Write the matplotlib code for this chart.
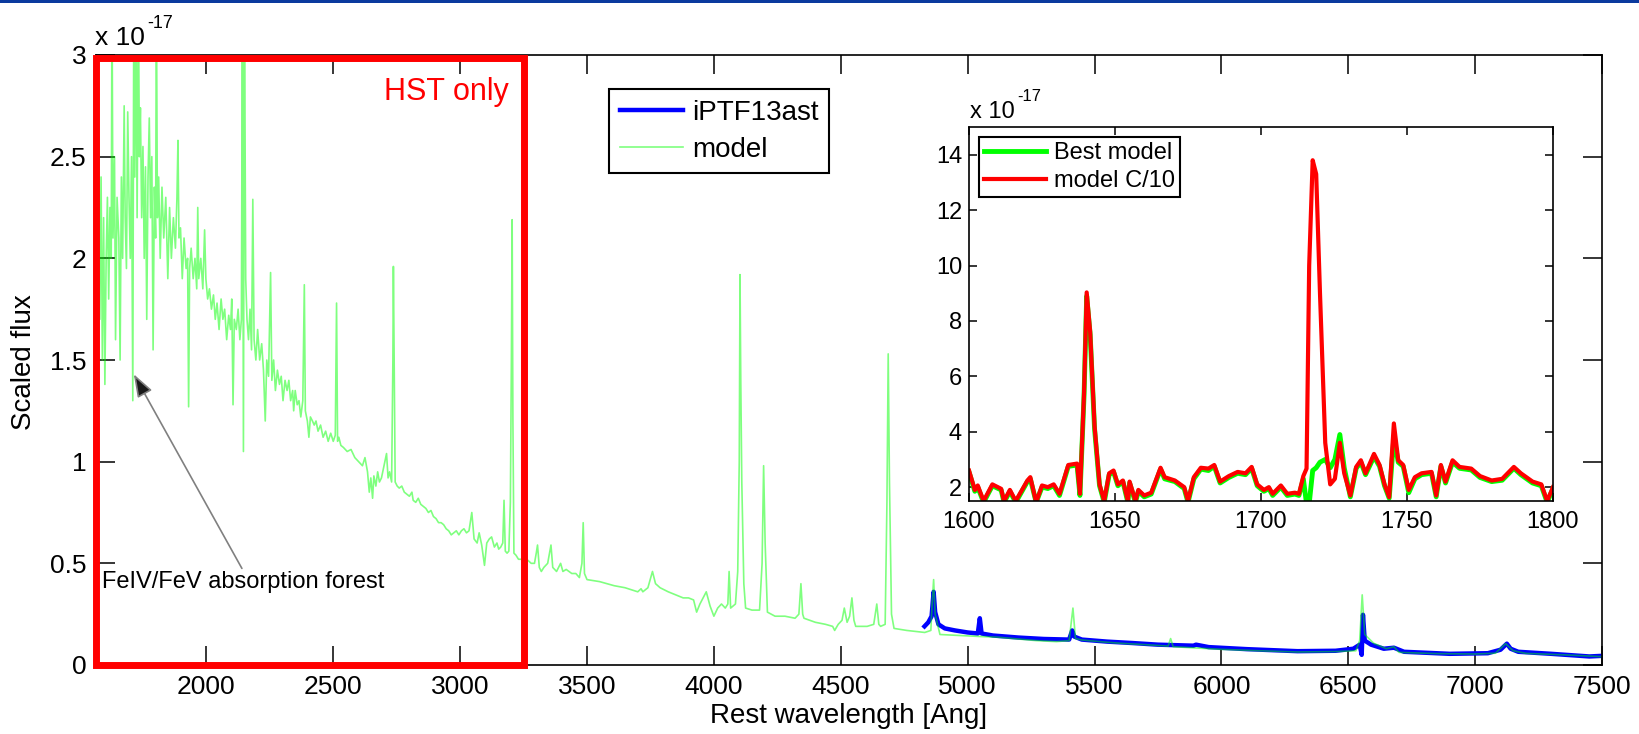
import matplotlib

matplotlib.use("Agg")
import matplotlib.pyplot as plt
import numpy as np
from matplotlib.patches import Rectangle

plt.rcParams["font.family"] = ["Liberation Sans", "DejaVu Sans"]

# model spectrum, flux in units of 1e-17, (wavelength [Ang], flux)
model_uv = [
    (1565, 2.9), (1568, 3.2), (1572, 2.0), (1576, 2.6), (1580, 1.7), (1585, 2.4), (1590, 1.5),
    (1595, 2.2), (1600, 1.38), (1605, 2.0), (1610, 2.3), (1615, 1.8), (1620, 2.25), (1625, 2.0),
    (1628, 3.3), (1632, 2.1), (1638, 2.5), (1642, 1.6), (1648, 2.3), (1655, 2.1), (1660, 1.5),
    (1665, 2.4), (1670, 2.0), (1676, 2.75), (1680, 2.2), (1685, 1.95), (1690, 2.72), (1695, 2.3),
    (1700, 2.0), (1705, 2.5), (1710, 1.3), (1714, 3.3), (1718, 2.4), (1722, 3.3), (1727, 2.2),
    (1732, 3.3), (1736, 2.5), (1740, 2.74), (1745, 2.2), (1750, 2.55), (1755, 2.0), (1760, 2.45),
    (1765, 1.7), (1770, 2.4), (1775, 2.69), (1780, 2.2), (1785, 2.5), (1790, 1.55), (1795, 2.35),
    (1800, 2.1), (1803, 3.3), (1807, 2.2), (1812, 2.4), (1818, 2.0), (1825, 2.35), (1832, 2.1),
    (1840, 2.3), (1848, 1.9), (1855, 2.25), (1862, 2.0), (1870, 2.2), (1878, 2.05), (1884, 2.3),
    (1888, 2.58), (1892, 2.1), (1898, 2.15), (1905, 1.9), (1912, 2.1), (1920, 1.95), (1926, 2.0),
    (1930, 1.27), (1934, 1.95), (1940, 2.05), (1948, 1.9), (1955, 2.0), (1962, 1.85), (1966, 2.25),
    (1970, 1.9), (1978, 2.0), (1986, 1.85), (1993, 2.14), (1998, 1.9), (2005, 1.8), (2012, 1.85),
    (2020, 1.75), (2028, 1.82), (2035, 1.7), (2042, 1.78), (2050, 1.65), (2058, 1.8), (2065, 1.7),
    (2072, 1.75), (2080, 1.6), (2088, 1.72), (2095, 1.65), (2100, 1.8), (2105, 1.28), (2110, 1.7),
    (2118, 1.65), (2125, 1.75), (2132, 1.6), (2138, 1.7), (2142, 3.3), (2146, 1.05), (2150, 3.3),
    (2155, 1.9), (2160, 1.7), (2166, 1.6), (2172, 1.75), (2178, 1.55), (2183, 2.29), (2188, 1.6),
    (2195, 1.5), (2202, 1.65), (2210, 1.5), (2218, 1.58), (2225, 1.45), (2232, 1.2), (2238, 1.5),
    (2245, 1.42), (2253, 1.93), (2258, 1.4), (2265, 1.5), (2272, 1.35), (2280, 1.45), (2288, 1.38),
    (2295, 1.42), (2302, 1.3), (2310, 1.4), (2318, 1.35), (2325, 1.4), (2332, 1.3), (2340, 1.35),
    (2344, 1.25), (2350, 1.35), (2358, 1.28), (2365, 1.3), (2372, 1.22), (2380, 1.3), (2386, 1.87),
    (2390, 1.25), (2398, 1.2), (2404, 1.12), (2410, 1.22), (2418, 1.2), (2425, 1.18), (2432, 1.2),
    (2440, 1.15), (2450, 1.18), (2460, 1.12), (2470, 1.15), (2480, 1.1), (2490, 1.14), (2500, 1.1),
    (2508, 1.13), (2513, 1.78), (2517, 1.1), (2522, 1.12), (2530, 1.08), (2540, 1.07),
]
model_near_uv = [
    (2555, 1.05), (2570, 1.06), (2585, 1.02), (2600, 1.0), (2615, 0.98), (2625, 1.02), (2635, 0.95),
    (2642, 0.85), (2648, 0.92), (2655, 0.82), (2660, 0.93), (2668, 0.88), (2675, 0.95), (2682, 0.9),
    (2690, 0.92), (2700, 0.98), (2710, 1.04), (2716, 0.92), (2722, 0.95), (2730, 0.9), (2735, 1.5),
    (2737, 1.96), (2740, 1.5), (2744, 0.9), (2752, 0.88), (2760, 0.87), (2770, 0.88), (2780, 0.85),
    (2790, 0.84), (2800, 0.83), (2810, 0.85), (2815, 0.81), (2825, 0.8), (2835, 0.82), (2845, 0.79),
    (2855, 0.78), (2865, 0.77), (2875, 0.75), (2885, 0.76), (2895, 0.73), (2905, 0.72), (2915, 0.7),
    (2925, 0.7), (2935, 0.69), (2945, 0.67), (2955, 0.66), (2965, 0.64), (2975, 0.65), (2985, 0.66),
    (2995, 0.64), (3005, 0.66), (3015, 0.67), (3025, 0.65), (3035, 0.66), (3046, 0.75), (3055, 0.62),
    (3067, 0.6), (3075, 0.65), (3085, 0.59), (3096, 0.49), (3105, 0.6), (3115, 0.62), (3124, 0.63),
    (3135, 0.58), (3145, 0.6), (3152, 0.57), (3160, 0.58), (3168, 0.6), (3173, 0.81), (3178, 0.56),
    (3185, 0.55), (3192, 0.56), (3198, 0.8), (3202, 1.5), (3205, 2.19), (3208, 1.2), (3212, 0.55),
    (3220, 0.54), (3230, 0.52), (3245, 0.52), (3255, 0.51), (3267, 0.515), (3280, 0.5), (3293, 0.5),
    (3300, 0.55), (3305, 0.59), (3312, 0.48), (3320, 0.46), (3330, 0.48), (3345, 0.5), (3358, 0.59),
    (3365, 0.48), (3380, 0.46), (3396, 0.5), (3405, 0.46), (3418, 0.47), (3440, 0.45), (3456, 0.45),
    (3470, 0.43), (3480, 0.5), (3485, 0.70), (3490, 0.45), (3500, 0.42),
]
model_optical = [
    (3550, 0.41), (3607, 0.39), (3650, 0.38), (3700, 0.36), (3713, 0.375), (3720, 0.36), (3740, 0.38),
    (3758, 0.46), (3770, 0.4), (3788, 0.38), (3820, 0.36), (3850, 0.345), (3879, 0.33), (3900, 0.33),
    (3920, 0.32), (3932, 0.26), (3945, 0.3), (3970, 0.36), (3985, 0.29), (4000, 0.24), (4015, 0.28),
    (4030, 0.3), (4045, 0.28), (4055, 0.3), (4060, 0.46), (4066, 0.28), (4085, 0.3), (4094, 0.46),
    (4100, 1.0), (4103, 1.92), (4106, 1.4), (4110, 0.9), (4118, 0.4), (4125, 0.28), (4150, 0.27),
    (4180, 0.27), (4190, 0.5), (4196, 0.98), (4202, 0.6), (4211, 0.26), (4241, 0.24), (4280, 0.24),
    (4320, 0.23), (4335, 0.25), (4343, 0.40), (4350, 0.25), (4355, 0.23), (4400, 0.21), (4440, 0.2),
    (4468, 0.19), (4476, 0.17), (4490, 0.2), (4505, 0.22), (4514, 0.28), (4525, 0.21), (4535, 0.24),
    (4544, 0.33), (4552, 0.22), (4559, 0.19), (4604, 0.19), (4630, 0.2), (4642, 0.30), (4650, 0.2),
    (4657, 0.19), (4675, 0.2), (4682, 0.8), (4687, 1.53), (4692, 0.9), (4700, 0.25), (4710, 0.18),
    (4760, 0.17), (4831, 0.16), (4855, 0.17), (4860, 0.3), (4866, 0.42), (4872, 0.25), (4891, 0.15),
    (4967, 0.145), (5050, 0.14), (5118, 0.137), (5200, 0.128), (5269, 0.12), (5350, 0.115),
    (5400, 0.12), (5415, 0.28), (5425, 0.13), (5450, 0.123), (5520, 0.115), (5600, 0.107),
    (5700, 0.1), (5790, 0.093), (5800, 0.13), (5810, 0.09), (5880, 0.085), (6000, 0.077),
    (6150, 0.07), (6300, 0.064), (6450, 0.066), (6530, 0.07), (6545, 0.12), (6555, 0.345),
    (6565, 0.15), (6600, 0.107), (6650, 0.08), (6680, 0.09), (6700, 0.062), (6850, 0.056),
    (7000, 0.054), (7080, 0.058), (7120, 0.105), (7150, 0.07), (7200, 0.057), (7350, 0.05),
    (7500, 0.041),
]

# observed iPTF13ast spectrum
observed = [
    (4830, 0.19), (4845, 0.21), (4858, 0.24), (4866, 0.36), (4872, 0.26), (4885, 0.2), (4910, 0.18),
    (4950, 0.17), (5000, 0.16), (5040, 0.155), (5048, 0.23), (5055, 0.155), (5100, 0.145),
    (5200, 0.135), (5300, 0.128), (5400, 0.125), (5412, 0.17), (5420, 0.14), (5450, 0.125),
    (5550, 0.115), (5650, 0.108), (5750, 0.1), (5890, 0.095), (5900, 0.1), (5950, 0.088),
    (6100, 0.078), (6300, 0.068), (6450, 0.07), (6520, 0.08), (6545, 0.1), (6553, 0.05),
    (6558, 0.247), (6565, 0.12), (6590, 0.1), (6640, 0.08), (6680, 0.085), (6720, 0.065),
    (6900, 0.055), (7050, 0.058), (7100, 0.075), (7125, 0.105), (7140, 0.08), (7170, 0.065),
    (7300, 0.055), (7450, 0.042), (7500, 0.045),
]

# inset: (wavelength, best model, model C/10)
inset_rows = [
    (1600, 2.55, 2.6), (1602, 1.85, 1.9), (1603, 2.0, 2.06), (1605, 1.45, 1.5), (1608, 2.05, 2.1),
    (1611, 1.9, 1.94), (1612, 1.45, 1.5), (1614, 1.85, 1.9), (1616, 1.45, 1.5), (1620, 2.2, 2.24),
    (1621, 2.3, 2.36), (1623, 1.45, 1.45), (1625, 2.0, 2.06), (1627, 1.95, 2.0), (1629, 2.05, 2.1),
    (1631, 1.7, 1.76), (1634, 2.75, 2.8), (1637, 2.8, 2.85), (1638, 1.7, 1.76), (1639.4, 5.3, 5.4),
    (1640.3, 8.9, 9.03), (1641.5, 7.5, 7.6), (1643, 4.1, 4.2), (1644.7, 2.05, 2.1), (1646.3, 1.45, 1.5),
    (1648, 2.45, 2.5), (1649.5, 2.55, 2.6), (1651, 2.05, 2.1), (1652.7, 2.2, 2.24), (1654.4, 1.45, 1.5),
    (1655, 2.15, 2.2), (1657, 1.45, 1.5), (1658, 1.85, 1.9), (1660, 1.65, 1.7), (1662.4, 1.75, 1.8),
    (1665.6, 2.65, 2.7), (1667, 2.3, 2.36), (1670.5, 2.2, 2.24), (1673.7, 1.95, 2.0), (1675, 1.45, 1.5),
    (1677, 2.3, 2.36), (1679.4, 2.65, 2.7), (1682, 2.6, 2.67), (1684, 2.75, 2.8), (1686, 2.15, 2.2),
    (1689, 2.35, 2.4), (1692, 2.5, 2.55), (1694.7, 2.45, 2.5), (1696.8, 2.68, 2.73), (1698.7, 2.05, 2.1),
    (1701, 1.85, 1.9), (1702.7, 1.95, 2.0), (1704, 1.7, 1.76), (1706.8, 2.0, 2.06), (1709, 1.7, 1.76),
    (1711.6, 1.75, 1.8), (1713, 1.7, 1.76), (1714.5, 2.3, 2.4), (1715.6, 1.4, 2.67), (1716.5, 1.4, 10.0),
    (1717.7, 2.6, 13.8), (1718.9, 2.7, 13.3), (1720.2, 2.9, 9.0), (1722, 3.0, 3.6), (1723.7, 2.7, 2.1),
    (1725.3, 3.0, 2.3), (1727, 3.9, 3.6), (1728.5, 2.7, 2.5), (1730.6, 1.65, 1.7), (1732.6, 2.68, 2.73),
    (1734.2, 2.9, 2.97), (1735.8, 2.45, 2.5), (1738.7, 3.1, 3.2), (1740.6, 2.75, 2.8), (1742.3, 2.05, 2.1),
    (1743.9, 1.6, 1.64), (1745.5, 3.8, 4.3), (1747, 2.9, 2.97), (1748.7, 2.75, 2.8), (1750.6, 1.8, 1.9),
    (1752.7, 2.3, 2.36), (1755, 2.45, 2.5), (1758.4, 2.5, 2.55), (1760, 1.65, 1.7), (1761.6, 2.75, 2.8),
    (1763.2, 2.15, 2.2), (1765.6, 2.9, 2.97), (1768, 2.68, 2.73), (1772, 2.62, 2.67), (1775, 2.35, 2.4),
    (1779, 2.2, 2.24), (1782.6, 2.25, 2.3), (1786.6, 2.68, 2.73), (1789, 2.45, 2.5), (1793, 2.15, 2.2),
    (1796, 2.05, 2.1), (1798, 1.45, 1.5), (1800, 1.95, 2.0),
]

main_xticks = [2000, 2500, 3000, 3500, 4000, 4500, 5000, 5500, 6000, 6500, 7000, 7500]
main_yticks = [0, 0.5, 1, 1.5, 2, 2.5, 3]
main_ytick_labels = ["0", "0.5", "1", "1.5", "2", "2.5", "3"]
inset_xticks = [1600, 1650, 1700, 1750, 1800]
inset_yticks = [2, 4, 6, 8, 10, 12, 14]

W, H = 1639, 734


def fig_box(left, top, right, bottom):
    return [left / W, 1 - bottom / H, (right - left) / W, (bottom - top) / H]


fig = plt.figure(figsize=(W / 100, H / 100), dpi=100)
fig.add_artist(Rectangle((0, 1 - 3 / H), 1, 3 / H, transform=fig.transFigure, color="#0b3a9e", lw=0))

ax = fig.add_axes(fig_box(96, 55, 1602, 665))
obs_w, obs_f = np.array(observed).T
mod_w, mod_f = np.array(model_uv + model_near_uv + model_optical).T
ax.plot(obs_w, obs_f, color="blue", lw=3.2, label="iPTF13ast")
ax.plot(mod_w, mod_f, color=(0, 1, 0), alpha=0.5, lw=1.2, label="model")
ax.set_xlim(1565, 7500)
ax.set_ylim(0, 3)
ax.set_xticks(main_xticks)
ax.set_yticks(main_yticks)
ax.set_yticklabels(main_ytick_labels)
ax.tick_params(direction="in", top=True, right=True, length=14, width=1.1, labelsize=19, pad=7)
for sp in ax.spines.values():
    sp.set_linewidth(1.2)
ax.set_xlabel("Rest wavelength [Ang]", fontsize=20)
ax.xaxis.set_label_coords(0.5, -0.062)
fig.text(24 / W, 1 - 362 / H, "Scaled flux", rotation=90, ha="center", va="center", fontsize=20)
fig.text(95 / W, 1 - 45 / H, "x 10", fontsize=19)
fig.text(147 / W, 1 - 28 / H, "-17", fontsize=13)

ax.add_patch(Rectangle((1565, 0), 3250 - 1565, 2.985, fill=False, ec="red", lw=5, clip_on=False, zorder=5))
ax.text(3191, 2.82, "HST only", color="red", fontsize=22, ha="right", va="center")
ax.annotate("", xy=(1714, 1.43), xytext=(2140, 0.475),
            arrowprops=dict(arrowstyle="-|>,head_length=0.7,head_width=0.25", ec="0.5", fc="0.1",
                            lw=1.2, shrinkA=0, shrinkB=0, mutation_scale=20))
ax.text(1588, 0.41, "FeIV/FeV absorption forest", fontsize=17, ha="left", va="center")

leg = ax.legend(loc="upper left", bbox_to_anchor=(609 / W, 1 - 89 / H), bbox_transform=fig.transFigure,
                fontsize=20, fancybox=False, framealpha=1, edgecolor="black", borderpad=0.38,
                handlelength=2.3, handletextpad=0.3, labelspacing=0.4, borderaxespad=0)
leg.get_frame().set_linewidth(1.5)

# inset
ins = fig.add_axes(fig_box(969, 127, 1553, 501))
in_w, in_best, in_c10 = np.array(inset_rows).T
ins.plot(in_w, in_best, color=(0, 1, 0), lw=3.5, label="Best model")
ins.plot(in_w, in_c10, color="red", lw=3, label="model C/10")
ins.set_xlim(1600, 1800)
ins.set_ylim(1.5, 15)
ins.set_xticks(inset_xticks)
ins.set_yticks(inset_yticks)
ins.tick_params(direction="in", top=True, right=True, length=6, width=1.1, labelsize=17)
ins.tick_params(axis="x", pad=7)
ins.tick_params(axis="y", pad=5)
for sp in ins.spines.values():
    sp.set_linewidth(1.2)
fig.text(970 / W, 1 - 118 / H, "x 10", fontsize=17)
fig.text(1017 / W, 1 - 101 / H, "-17", fontsize=12)
leg2 = ins.legend(loc="upper left", bbox_to_anchor=(979 / W, 1 - 137 / H), bbox_transform=fig.transFigure,
                  fontsize=17, fancybox=False, framealpha=1, edgecolor="black", borderpad=0.22,
                  handlelength=2.6, handletextpad=0.35, labelspacing=0.25, borderaxespad=0)
leg2.get_frame().set_linewidth(1.5)

fig.savefig("out.png", dpi=100)
